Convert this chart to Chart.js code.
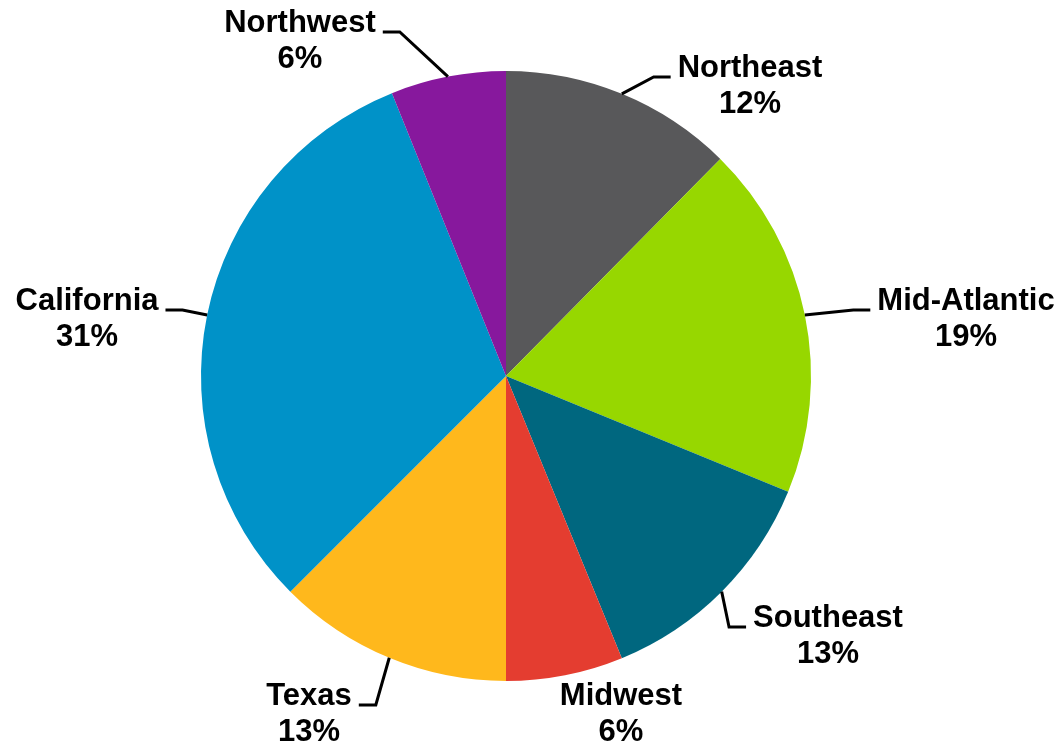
<!DOCTYPE html>
<html lang="en">
<head>
  <meta charset="utf-8">
  <script src="https://cdn.jsdelivr.net/npm/chart.js"></script>
  <style>
    body { margin: 0; background: #fff; }
    .wrap { width: 1058px; height: 744px; position: relative; }
  </style>
</head>
<body>
  <div class="wrap">
    <canvas id="chartPie"></canvas>
  </div>

<script>
  // regioes e valores (em %)
  var regioes = ["Northeast", "Mid-Atlantic", "Southeast", "Midwest", "Texas", "California", "Northwest"];
  var valores = [12.4, 18.8, 12.6, 6.2, 12.5, 31.4, 6.1];
  var cores = ["#58585A", "#97D700", "#00677F", "#E43D30", "#FFB81C", "#0092C8", "#87189D"];

  // onde fica o texto de cada rotulo (centro x, linha de base da 1a linha) e de que lado sai a linha guia
  var rotuloPos = [
    { x: 750, y: 77, lado: "left" },
    { x: 966, y: 310, lado: "left" },
    { x: 828, y: 627, lado: "left" },
    { x: 621, y: 705, lado: null },
    { x: 309, y: 705, lado: "right" },
    { x: 87, y: 310, lado: "right" },
    { x: 300, y: 32, lado: "right" }
  ];

  // plugin que desenha os rotulos com as linhas guia
  var rotulosPlugin = {
    id: "rotulos",
    afterDraw: function (chart) {
      var ctx = chart.ctx;
      var meta = chart.getDatasetMeta(0);
      var total = valores.reduce(function (a, b) { return a + b; }, 0);
      ctx.save();
      ctx.font = "bold 31px 'Liberation Sans', Arial, sans-serif";
      ctx.fillStyle = "#000";
      ctx.strokeStyle = "#000";
      ctx.lineWidth = 3;
      ctx.textAlign = "center";
      ctx.textBaseline = "alphabetic";

      meta.data.forEach(function (arc, i) {
        var p = arc.getProps(["x", "y", "startAngle", "endAngle", "outerRadius"], true);
        var meio = (p.startAngle + p.endAngle) / 2;
        var bx = p.x + Math.cos(meio) * p.outerRadius;
        var by = p.y + Math.sin(meio) * p.outerRadius;
        var pos = rotuloPos[i];
        var w = ctx.measureText(regioes[i]).width;

        if (pos.lado) {
          var fimX = pos.lado === "left" ? pos.x - w / 2 - 7 : pos.x + w / 2 + 7;
          var cotoveloX = pos.lado === "left" ? fimX - 17 : fimX + 17;
          ctx.beginPath();
          ctx.moveTo(bx, by);
          ctx.lineTo(cotoveloX, pos.y);
          ctx.lineTo(fimX, pos.y);
          ctx.stroke();
        }

        var pct = Math.round(valores[i] / total * 100) + "%";
        ctx.fillText(regioes[i], pos.x, pos.y);
        ctx.fillText(pct, pos.x, pos.y + 36);
      });
      ctx.restore();
    }
  };

  var ctxPie = document.getElementById("chartPie").getContext("2d");
  var configPie = {
    type: "pie",
    data: {
      labels: regioes,
      datasets: [
        {
          data: valores,
          backgroundColor: cores,
          borderWidth: 0
        }
      ]
    },
    options: {
      maintainAspectRatio: false,
      responsive: true,
      animation: false,
      layout: {
        padding: { top: 71, bottom: 63, left: 201, right: 247 }
      },
      plugins: {
        legend: { display: false },
        tooltip: { enabled: false }
      }
    },
    plugins: [rotulosPlugin]
  };

  var graficoPie = new Chart(ctxPie, configPie);
</script>
</body>
</html>
